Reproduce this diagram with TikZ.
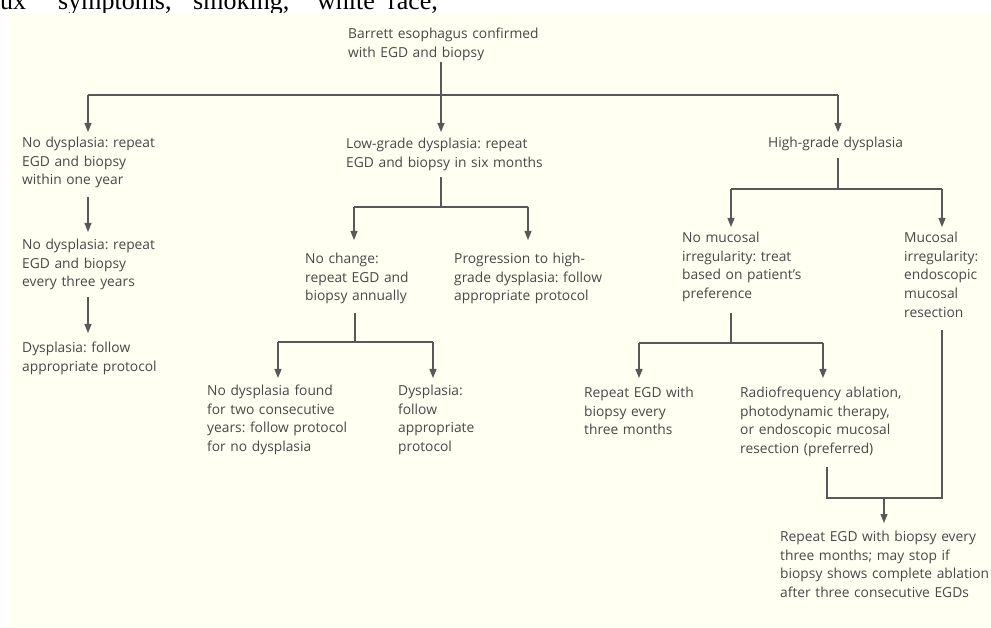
\documentclass[tikz,border=0pt]{standalone}
\usepackage{fontspec}
\setmainfont{Open Sans}
\newfontfamily\runningserif{Liberation Serif}
\usetikzlibrary{arrows.meta}
\definecolor{cream}{RGB}{255,255,242}
\definecolor{ink}{RGB}{72,72,72}
\definecolor{wire}{RGB}{88,88,88}
\tikzset{
  lbl/.style={anchor=base west, inner sep=0pt, text width=240pt, align=left,
              text=ink, font=\frenchspacing\fontsize{13.8}{18.7}\selectfont},
  prose/.style={anchor=base west, inner sep=0pt, text=black,
              font=\runningserif\fontsize{26}{30}\selectfont},
  wireline/.style={draw=wire, line width=1.2pt},
  arrowline/.style={wireline, -{Triangle[width=7pt,length=9pt]}},
}
\begin{document}
\begin{tikzpicture}[x=1pt,y=-1pt]
\useasboundingbox (0,0) rectangle (991,628);
\fill[white] (0,0) rectangle (991,628);

% running text line above the figure panel
\node[prose] (w1) at (0,10) {ux};
\node[prose] (w2) at (58,10) {symptoms,};
\node[prose] (w3) at (193,10) {smoking,};
\node[prose] (w4) at (317,10) {white};
\node[prose] (w5) at (388,10) {race,};

% figure panel
\fill[cream] (8,13) rectangle (991,628);

% ---- text blocks ----
\node[lbl] (top)  at (348,38.5) {Barrett esophagus confirmed\\with EGD and biopsy};
\node[lbl] (nd1)  at (22,147.5) {No dysplasia: repeat\\EGD and biopsy\\within one year};
\node[lbl] (nd2)  at (22,249.5) {No dysplasia: repeat\\EGD and biopsy\\every three years};
\node[lbl] (nd3)  at (22,352.5) {Dysplasia: follow\\appropriate protocol};
\node[lbl] (lg)   at (346,148.5) {Low-grade dysplasia: repeat\\EGD and biopsy in six months};
\node[lbl] (nc)   at (305,263.5) {No change:\\repeat EGD and\\biopsy annually};
\node[lbl] (prog) at (454,263.5) {Progression to high-\\grade dysplasia: follow\\appropriate protocol};
\node[lbl] (ndf)  at (207,395.5) {No dysplasia found\\for two consecutive\\years: follow protocol\\for no dysplasia};
\node[lbl] (dys)  at (398,395.5) {Dysplasia:\\follow\\appropriate\\protocol};
\node[lbl] (hg)   at (768,147.5) {High-grade dysplasia};
\node[lbl] (nmi)  at (682,242.5) {No mucosal\\irregularity: treat\\based on patient’s\\preference};
\node[lbl] (mi)   at (904,242.5) {Mucosal\\irregularity:\\endoscopic\\mucosal\\resection};
\node[lbl] (rep3) at (584,397.5) {Repeat EGD with\\biopsy every\\three months};
\node[lbl] (rfa)  at (740,397.5) {Radiofrequency ablation,\\photodynamic therapy,\\or endoscopic mucosal\\resection (preferred)};
\node[lbl] (fin)  at (780,541.5) {Repeat EGD with biopsy every\\three months; may stop if\\biopsy shows complete ablation\\after three consecutive EGDs};

% ---- connector points ----
\coordinate (topOut) at (441,62);
\coordinate (bus0)   at (441,95);
\coordinate (bus0L)  at (88,95);
\coordinate (bus0R)  at (838,95);
\coordinate (nd1In)  at (88,132);
\coordinate (lgIn)   at (441,132);
\coordinate (hgIn)   at (838,132);
\coordinate (nd1Out) at (88,197);
\coordinate (nd2In)  at (88,232);
\coordinate (nd2Out) at (88,297);
\coordinate (nd3In)  at (88,333);

\coordinate (lgOut)  at (441,177);
\coordinate (bus1)   at (441,207);
\coordinate (bus1L)  at (354,207);
\coordinate (bus1R)  at (528,207);
\coordinate (ncIn)   at (354,240);
\coordinate (progIn) at (528,240);

\coordinate (ncOut)  at (355,313);
\coordinate (bus2)   at (355,342);
\coordinate (bus2L)  at (278,342);
\coordinate (bus2R)  at (433,342);
\coordinate (ndfIn)  at (278,378);
\coordinate (dysIn)  at (433,378);

\coordinate (hgOut)  at (838,158);
\coordinate (bus3)   at (838,189);
\coordinate (bus3L)  at (731,189);
\coordinate (bus3R)  at (942,189);
\coordinate (nmiIn)  at (731,227);
\coordinate (miIn)   at (942,227);

\coordinate (nmiOut) at (731,313);
\coordinate (bus4)   at (731,343);
\coordinate (bus4L)  at (639,343);
\coordinate (bus4R)  at (823,343);
\coordinate (rep3In) at (639,378);
\coordinate (rfaIn)  at (823,378);

\coordinate (rfaOut) at (827,467);
\coordinate (miOut)  at (942,330);
\coordinate (bus5L)  at (827,498);
\coordinate (bus5R)  at (942,498);
\coordinate (bus5)   at (884,498);
\coordinate (finIn)  at (884,523);

% ---- connectors ----
\draw[wireline] (topOut) -- (bus0);
\draw[wireline] (bus0L) -- (bus0R);
\draw[arrowline] (bus0L) -- (nd1In);
\draw[arrowline] (bus0) -- (lgIn);
\draw[arrowline] (bus0R) -- (hgIn);
\draw[arrowline] (nd1Out) -- (nd2In);
\draw[arrowline] (nd2Out) -- (nd3In);

\draw[wireline] (lgOut) -- (bus1);
\draw[wireline] (bus1L) -- (bus1R);
\draw[arrowline] (bus1L) -- (ncIn);
\draw[arrowline] (bus1R) -- (progIn);

\draw[wireline] (ncOut) -- (bus2);
\draw[wireline] (bus2L) -- (bus2R);
\draw[arrowline] (bus2L) -- (ndfIn);
\draw[arrowline] (bus2R) -- (dysIn);

\draw[wireline] (hgOut) -- (bus3);
\draw[wireline] (bus3L) -- (bus3R);
\draw[arrowline] (bus3L) -- (nmiIn);
\draw[arrowline] (bus3R) -- (miIn);

\draw[wireline] (nmiOut) -- (bus4);
\draw[wireline] (bus4L) -- (bus4R);
\draw[arrowline] (bus4L) -- (rep3In);
\draw[arrowline] (bus4R) -- (rfaIn);

\draw[wireline] (rfaOut) -- (bus5L) -- (bus5R) -- (miOut);
\draw[arrowline] (bus5) -- (finIn);
\end{tikzpicture}
\end{document}
